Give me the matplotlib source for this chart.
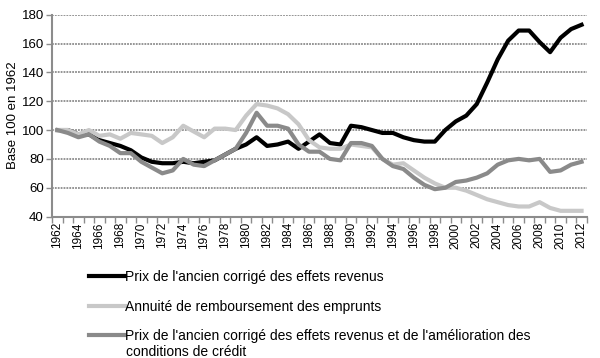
import numpy as np
import matplotlib
matplotlib.use("Agg")
import matplotlib.pyplot as plt

plt.rcParams['font.family'] = ['Liberation Sans', 'DejaVu Sans']

annees = list(range(1962, 2013))

prix_revenus = [100, 100, 97, 97, 93, 91, 89, 86, 81, 78,
                77, 77, 78, 77, 78, 79, 83, 87, 90, 95,
                89, 90, 92, 87, 92, 97, 91, 90, 103, 102,
                100, 98, 98, 95, 93, 92, 92, 100, 106, 110,
                118, 133, 149, 162, 169, 169, 161, 154, 164, 170,
                173]

annuite = [100, 100, 97, 100, 96, 97, 94, 98, 97, 96,
           91, 95, 103, 99, 95, 101, 101, 100, 110, 118,
           117, 115, 111, 104, 93, 88, 87, 87, 90, 89,
           88, 80, 76, 77, 72, 67, 63, 60, 60, 58,
           55, 52, 50, 48, 47, 47, 50, 46, 44, 44,
           44]

prix_credit = [100, 98, 95, 97, 92, 89, 84, 84, 78, 74,
               70, 72, 80, 76, 75, 79, 83, 87, 98, 112,
               103, 103, 101, 90, 85, 85, 80, 79, 91, 91,
               89, 80, 75, 73, 67, 62, 59, 60, 64, 65,
               67, 70, 76, 79, 80, 79, 80, 71, 72, 76,
               78]

noms = ["Prix de l'ancien corrigé des effets revenus",
        "Annuité de remboursement des emprunts",
        "Prix de l'ancien corrigé des effets revenus et de l'amélioration des"]
suite_nom = "conditions de crédit"

fig = plt.figure(figsize=(6, 3.58), dpi=100)
ax = fig.add_axes([0.087, 0.395, 0.891, 0.564])

ax.plot(annees, prix_revenus, color='#000000', lw=3, label=noms[0])
ax.plot(annees, annuite, color='#c8c8c8', lw=3, label=noms[1])
ax.plot(annees, prix_credit, color='#8a8a8a', lw=3, label=noms[2])

ax.set_xlim(1961.5, 2012.5)
ax.set_ylim(40, 180)
ax.set_yticks(range(40, 181, 20))
ax.set_xticks(annees[::2])
ax.set_xticklabels([str(a) for a in annees[::2]], rotation=90)
ax.set_xticks(np.arange(1961.5, 2013, 1), minor=True)
ax.tick_params(axis='x', which='major', length=0, labelsize=8.5, pad=4)
ax.tick_params(axis='x', which='minor', length=4, color='#8c8c8c', width=1)
ax.tick_params(axis='y', length=4, color='#8c8c8c', width=1, labelsize=9.5, pad=2)

ax.yaxis.grid(True, color='#8c8c8c', lw=1.3, linestyle=(0, (1, 0.6)))
ax.set_axisbelow(True)
for s in ['top', 'right']:
    ax.spines[s].set_visible(False)
for s in ['left', 'bottom']:
    ax.spines[s].set_color('#8c8c8c')
    ax.spines[s].set_linewidth(1.5)

ax.set_ylabel('Base 100 en 1962', fontsize=9.5, labelpad=2)

fig.legend(loc='upper left', bbox_to_anchor=(0.128, 0.280), frameon=False,
           fontsize=10, handlelength=2.6, handletextpad=0.0, labelspacing=1.1)
fig.text(126 / 600, 1 - 352 / 358, suite_nom, fontsize=10, va='center', ha='left')

fig.savefig('out.png', dpi=100)
